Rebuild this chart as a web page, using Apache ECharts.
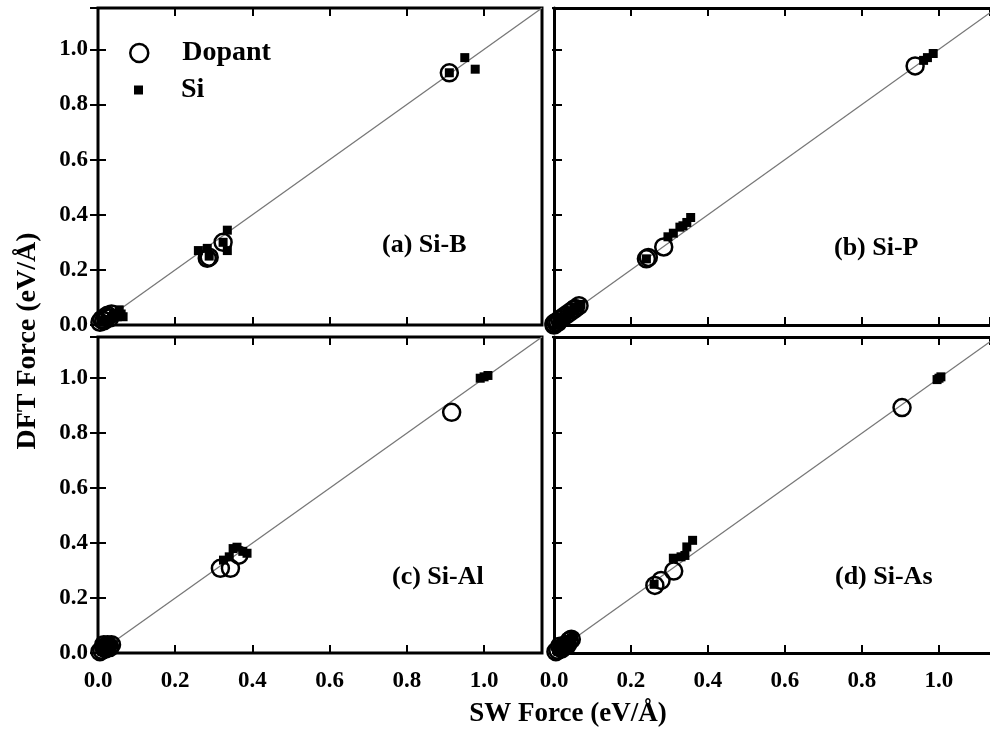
<!DOCTYPE html>
<html>
<head>
<meta charset="utf-8">
<script src="https://cdn.jsdelivr.net/npm/echarts@6.0.0/dist/echarts.min.js"></script>
<title>SW vs DFT force</title>
<style>
  html, body { margin: 0; padding: 0; background: #fff; }
  #main { width: 990px; height: 739px; }
</style>
</head>
<body>
<div id="main"></div>
<script type="text/javascript">
// data: [SW force, DFT force] in eV/A
var dopantA = [[0.005,0.01],[0.01,0.02],[0.015,0.015],[0.02,0.03],[0.025,0.035],[0.03,0.025],[0.035,0.04],
               [0.288,0.246],[0.283,0.242],[0.324,0.30],[0.91,0.915]];
var siA = [[0.01,0.015],[0.015,0.01],[0.02,0.02],[0.03,0.02],[0.035,0.03],[0.04,0.035],[0.045,0.04],[0.05,0.03],
           [0.055,0.055],[0.065,0.03],[0.06,0.04],
           [0.26,0.27],[0.283,0.278],[0.288,0.25],[0.324,0.30],[0.335,0.344],[0.335,0.27],
           [0.91,0.915],[0.95,0.97],[0.977,0.928]];

var dopantB = [[0.0,0.0],[0.0,0.005],[0.005,0.01],[0.01,0.01],[0.015,0.02],[0.02,0.025],[0.03,0.035],
               [0.04,0.045],[0.05,0.055],[0.055,0.06],[0.065,0.07],
               [0.24,0.24],[0.245,0.245],[0.285,0.283],[0.938,0.94]];
var siB = [[0.005,0.0],[0.01,0.015],[0.02,0.02],[0.025,0.03],[0.03,0.03],[0.035,0.045],[0.04,0.04],[0.045,0.05],
           [0.05,0.05],[0.055,0.065],[0.06,0.06],[0.065,0.07],[0.07,0.075],
           [0.24,0.24],[0.296,0.32],[0.31,0.333],[0.327,0.355],[0.335,0.36],[0.345,0.372],[0.355,0.39],
           [0.96,0.96],[0.97,0.97],[0.985,0.985]];

var dopantC = [[0.005,0.005],[0.01,0.01],[0.015,0.02],[0.02,0.015],[0.025,0.025],[0.03,0.02],[0.025,0.03],
               [0.035,0.03],[0.015,0.03],
               [0.317,0.308],[0.343,0.308],[0.365,0.356],[0.916,0.876]];
var siC = [[0.01,0.005],[0.015,0.015],[0.02,0.01],[0.02,0.025],[0.025,0.02],[0.03,0.03],[0.035,0.025],
           [0.02,0.035],[0.01,0.02],[0.03,0.015],[0.025,0.03],[0.04,0.03],
           [0.325,0.338],[0.34,0.35],[0.35,0.38],[0.36,0.385],[0.375,0.37],[0.386,0.363],
           [0.99,1.0],[1.0,1.005],[1.01,1.01]];

var dopantD = [[0.005,0.005],[0.01,0.01],[0.02,0.015],[0.02,0.02],[0.03,0.03],[0.035,0.03],[0.04,0.045],
               [0.015,0.025],[0.045,0.05],
               [0.262,0.246],[0.278,0.264],[0.311,0.298],[0.904,0.893]];
var siD = [[0.01,0.005],[0.015,0.02],[0.02,0.025],[0.025,0.015],[0.03,0.035],[0.035,0.04],[0.04,0.05],
           [0.045,0.055],[0.05,0.06],[0.045,0.04],[0.03,0.02],[0.025,0.03],[0.04,0.035],
           [0.26,0.25],[0.31,0.345],[0.33,0.35],[0.34,0.355],[0.345,0.386],[0.36,0.41],
           [0.995,0.995],[1.0,1.0],[1.005,1.005]];

var panelLabels = ['(a) Si-B', '(b) Si-P', '(c) Si-Al', '(d) Si-As'];
var dopantSets = [dopantA, dopantB, dopantC, dopantD];
var siSets = [siA, siB, siC, siD];
var diagonal = [[0, 0], [1.15, 1.15]];
var yMax = 1.15;
// the right column is cut by the picture edge, so its x range stops short
var xMaxes = [1.15, 1.1325, 1.15, 1.1325];

var font = 'Liberation Serif';
var myChart = echarts.init(document.getElementById('main'));

// panel boxes in pixels
var grids = [
    {left: 98, top: 8, width: 444, height: 317},
    {left: 554, top: 8, width: 436, height: 317},
    {left: 98, top: 337, width: 444, height: 316},
    {left: 554, top: 337, width: 436, height: 316}
];
// where each panel label sits
var labelPos = [[382, 245], [834, 248], [392, 577], [835, 577]];

function tickLabel(v) {
    if (v > 1.1) return '';
    return v.toFixed(1);
}

var xAxes = [], yAxes = [], series = [], graphics = [];
for (var i = 0; i < 4; i++) {
    var cut = i % 2 == 1;   // right column: no right border
    var tick = {show: true, inside: true, length: 8, lineStyle: {color: '#000', width: 2}};
    var line = {show: cut, onZero: false, lineStyle: {color: '#000', width: 3}};
    var label = {fontFamily: font, fontWeight: 'bold', fontSize: 23, color: '#000', showMaxLabel: false, formatter: tickLabel};
    // bottom / left carry labels, top / right only ticks
    xAxes.push({type: 'value', gridIndex: i, position: 'bottom', min: 0, max: xMaxes[i], interval: 0.2,
        axisLine: line, axisTick: tick, splitLine: {show: false},
        axisLabel: Object.assign({show: i >= 2, margin: 17}, label)});
    xAxes.push({type: 'value', gridIndex: i, position: 'top', min: 0, max: xMaxes[i], interval: 0.2,
        axisLine: line, axisTick: tick, splitLine: {show: false}, axisLabel: {show: false}});
    yAxes.push({type: 'value', gridIndex: i, position: 'left', min: 0, max: yMax, interval: 0.2,
        axisLine: line, axisTick: tick, splitLine: {show: false},
        axisLabel: Object.assign({show: !cut, margin: 10}, label)});
    yAxes.push({type: 'value', gridIndex: i, position: 'right', min: 0, max: yMax, interval: 0.2,
        axisLine: {show: false}, splitLine: {show: false}, axisLabel: {show: false},
        axisTick: {show: true, inside: true, length: cut ? 2 : 8, lineStyle: {color: '#000', width: 2}}});

    series.push({
        type: 'line', xAxisIndex: 2 * i, yAxisIndex: 2 * i, data: diagonal,
        symbol: 'none', silent: true, z: 1,
        lineStyle: {color: '#777', width: 1.3}
    });
    series.push({
        name: 'Dopant', type: 'scatter', xAxisIndex: 2 * i, yAxisIndex: 2 * i,
        data: dopantSets[i], symbol: 'circle', symbolSize: 17, z: 3,
        itemStyle: {color: 'transparent', borderColor: '#000', borderWidth: 2.5, opacity: 1}
    });
    series.push({
        name: 'Si', type: 'scatter', xAxisIndex: 2 * i, yAxisIndex: 2 * i,
        data: siSets[i], symbol: 'rect', symbolSize: 9, z: 4,
        itemStyle: {color: '#000', opacity: 1}
    });

    graphics.push({
        type: 'text', x: labelPos[i][0], y: labelPos[i][1],
        style: {text: panelLabels[i], fontFamily: font, fontWeight: 'bold', fontSize: 26,
            fill: '#000', textAlign: 'left', textVerticalAlign: 'middle'}
    });
}

// axis titles
graphics.push({
    type: 'text', x: 28, y: 341, rotation: Math.PI / 2,
    style: {text: 'DFT Force (eV/Å)', fontFamily: font, fontWeight: 'bold', fontSize: 28,
        fill: '#000', textAlign: 'center', textVerticalAlign: 'middle'}
});
graphics.push({
    type: 'text', x: 568, y: 714,
    style: {text: 'SW Force (eV/Å)', fontFamily: font, fontWeight: 'bold', fontSize: 27,
        fill: '#000', textAlign: 'center', textVerticalAlign: 'middle'}
});

var option = {
    backgroundColor: '#fff',
    animation: false,
    grid: grids.map(function (g, k) {
        return Object.assign({show: k % 2 == 0, borderColor: '#000', borderWidth: 3, backgroundColor: 'transparent'}, g);
    }),
    xAxis: xAxes,
    yAxis: yAxes,
    legend: [
        {
            data: [{name: 'Dopant', icon: 'circle'}],
            left: 124, top: 34, itemWidth: 18, itemHeight: 18,
            itemStyle: {color: 'transparent', borderColor: '#000', borderWidth: 2.5},
            textStyle: {fontFamily: font, fontWeight: 'bold', fontSize: 28, color: '#000', padding: [0, 0, 0, 29]}
        },
        {
            data: [{name: 'Si', icon: 'rect'}],
            left: 129, top: 71, itemWidth: 9, itemHeight: 9,
            itemStyle: {color: '#000'},
            textStyle: {fontFamily: font, fontWeight: 'bold', fontSize: 28, color: '#000', padding: [0, 0, 0, 33]}
        }
    ],
    graphic: graphics,
    series: series
};
myChart.setOption(option);
</script>
</body>
</html>
